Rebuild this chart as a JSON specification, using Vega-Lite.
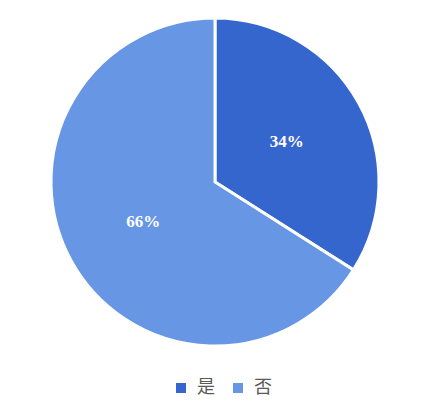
{
  "$schema": "https://vega.github.io/schema/vega-lite/v6.json",
  "width": 328,
  "height": 328,
  "padding": {"left": 45, "top": 12, "right": 68, "bottom": 80},
  "background": "white",
  "config": {"view": {"stroke": "transparent"}},
  "data": {
    "values": [
      {"answer": "是", "pct": 34, "order": 1},
      {"answer": "否", "pct": 66, "order": 2}
    ]
  },
  "encoding": {
    "theta": {"field": "pct", "type": "quantitative", "stack": true},
    "order": {"field": "order", "type": "quantitative"}
  },
  "layer": [
    {
      "mark": {"type": "arc", "stroke": "white", "strokeWidth": 3},
      "encoding": {
        "color": {
          "field": "answer",
          "type": "nominal",
          "scale": {"domain": ["是", "否"], "range": ["#3566ce", "#6696e4"]},
          "legend": {
            "title": null,
            "orient": "none",
            "direction": "horizontal",
            "legendX": 121,
            "legendY": 361,
            "symbolType": "square",
            "symbolSize": 100,
            "symbolStrokeWidth": 0,
            "labelFont": "Noto Sans CJK SC",
            "labelFontSize": 18,
            "labelColor": "#595959",
            "columnPadding": 14,
            "labelOffset": 7
          }
        }
      }
    },
    {
      "mark": {
        "type": "text",
        "radius": 82,
        "font": "Liberation Serif",
        "fontWeight": "bold",
        "fontSize": 17
      },
      "encoding": {
        "text": {"field": "label", "type": "nominal"},
        "color": {"value": "white"}
      },
      "transform": [{"calculate": "datum.pct + '%'", "as": "label"}]
    }
  ]
}
